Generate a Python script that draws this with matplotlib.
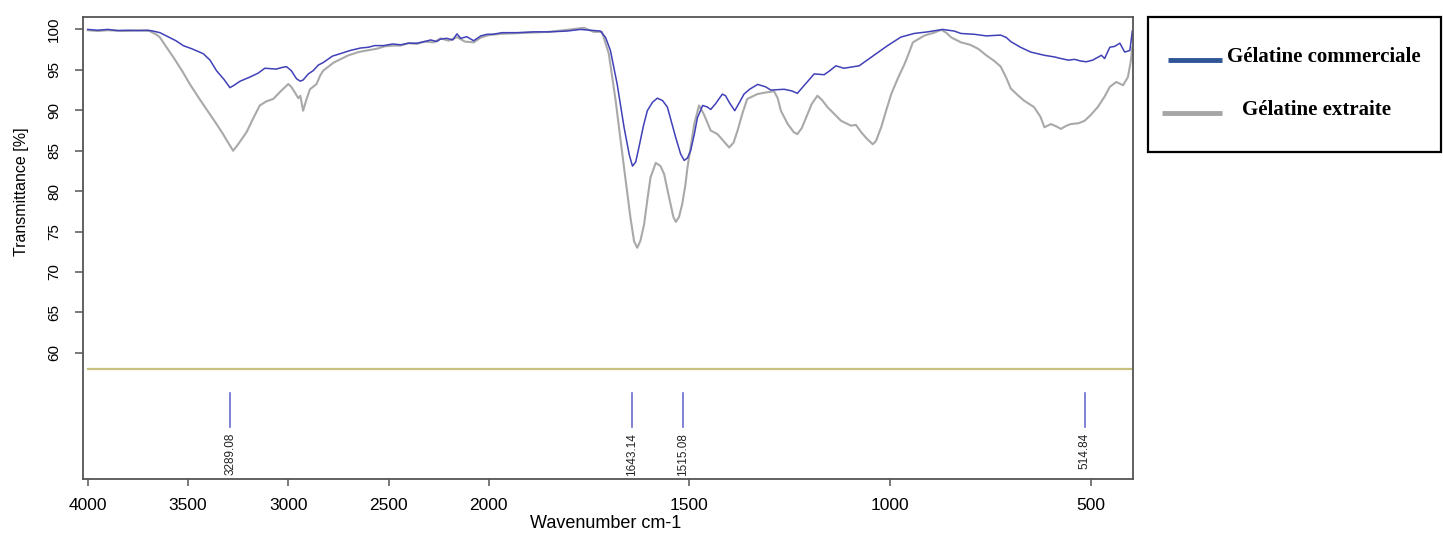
import matplotlib
matplotlib.use('Agg')
import matplotlib.pyplot as plt
import numpy as np
from matplotlib.lines import Line2D
from matplotlib.patches import Rectangle

W, H = 1443, 534

# spectrum of commercial gelatin (wavenumber cm-1, transmittance %)
wn_com = [4000, 3950, 3900, 3850, 3800, 3750, 3700, 3674, 3640, 3600, 3560, 3524, 3480, 3424,
          3390, 3358, 3320, 3291, 3270, 3240, 3192, 3150, 3117, 3060, 3030, 3009, 2985, 2959,
          2940, 2926, 2900, 2876, 2850, 2826, 2780, 2741, 2691, 2640, 2600, 2570, 2525, 2480,
          2440, 2400, 2358, 2320, 2290, 2260, 2242, 2210, 2180, 2159, 2140, 2110, 2090, 2076,
          2040, 2009, 1990, 1967, 1930, 1888, 1850, 1805, 1772, 1747, 1722, 1709, 1697, 1680,
          1663, 1650, 1642, 1634, 1626, 1615, 1605, 1592, 1580, 1567, 1555, 1545, 1534, 1522,
          1513, 1505, 1497, 1488, 1480, 1467, 1455, 1447, 1435, 1418, 1410, 1401, 1387, 1375,
          1364, 1350, 1330, 1310, 1297, 1264, 1245, 1231, 1210, 1189, 1164, 1150, 1135, 1115,
          1077, 1040, 1006, 973, 940, 906, 869, 840, 823, 790, 760, 724, 710, 699, 675, 649,
          615, 590, 574, 555, 540, 525, 511, 495, 473, 465, 452, 440, 427, 415, 402, 396]
tr_com = [100.0, 99.9, 100.0, 99.85, 99.9, 99.85, 99.9, 99.8, 99.6, 99.1, 98.6, 98.0, 97.6, 97.0,
          96.2, 94.9, 93.8, 92.8, 93.1, 93.6, 94.1, 94.6, 95.2, 95.1, 95.3, 95.4, 94.9, 93.9,
          93.6, 93.75, 94.5, 94.9, 95.6, 95.9, 96.7, 97.0, 97.4, 97.7, 97.8, 98.0, 98.0, 98.2,
          98.1, 98.3, 98.3, 98.5, 98.7, 98.5, 98.8, 98.9, 98.7, 99.45, 98.9, 99.1, 98.8, 98.6,
          99.2, 99.4, 99.4, 99.6, 99.6, 99.7, 99.7, 99.8, 100.0, 99.9, 99.8, 99.0, 97.4, 93.2,
          87.9, 84.5, 83.1, 83.6, 85.4, 88.0, 89.95, 91.0, 91.5, 91.2, 90.4, 88.6, 86.6, 84.6,
          83.8, 84.1, 85.0, 87.0, 89.1, 90.6, 90.4, 90.1, 90.8, 92.0, 91.8, 91.0, 89.95, 91.0,
          92.0, 92.6, 93.2, 92.9, 92.5, 92.6, 92.4, 92.1, 93.3, 94.5, 94.4, 94.9, 95.5, 95.2,
          95.5, 96.8, 98.0, 99.05, 99.5, 99.7, 100.0, 99.8, 99.5, 99.4, 99.2, 99.3, 99.0, 98.5,
          97.8, 97.2, 96.8, 96.6, 96.4, 96.2, 96.3, 96.1, 96.0, 96.2, 96.8, 96.4, 97.8, 97.9,
          98.3, 97.2, 97.4, 99.8]

# spectrum of extracted gelatin
wn_ext = [4000, 3950, 3900, 3800, 3750, 3691, 3660, 3641, 3610, 3574, 3530, 3491, 3440, 3391,
          3355, 3325, 3300, 3275, 3250, 3208, 3175, 3142, 3110, 3075, 3040, 3000, 2985, 2967,
          2950, 2940, 2926, 2910, 2892, 2859, 2841, 2826, 2800, 2774, 2700, 2650, 2608, 2560,
          2520, 2480, 2441, 2400, 2360, 2320, 2275, 2240, 2200, 2159, 2120, 2076, 2040, 2000,
          1971, 1900, 1850, 1805, 1763, 1739, 1718, 1701, 1684, 1663, 1647, 1638, 1630, 1622,
          1613, 1605, 1597, 1584, 1572, 1563, 1555, 1547, 1540, 1534, 1526, 1518, 1510, 1505,
          1496, 1488, 1476, 1464, 1447, 1430, 1415, 1401, 1390, 1380, 1368, 1356, 1331, 1310,
          1289, 1280, 1272, 1255, 1240, 1231, 1220, 1206, 1195, 1181, 1170, 1156, 1140, 1122,
          1097, 1085, 1072, 1058, 1043, 1035, 1022, 1010, 997, 980, 964, 955, 943, 914, 890,
          872, 860, 847, 823, 800, 780, 760, 740, 724, 710, 699, 680, 666, 641, 625, 615, 599,
          585, 574, 560, 549, 530, 515, 500, 482, 465, 452, 436, 419, 407, 400, 396]
tr_ext = [99.9, 99.8, 99.9, 99.8, 99.9, 99.8, 99.4, 99.05, 97.9, 96.6, 94.9, 93.25, 91.3, 89.5,
          88.2, 87.05, 86.0, 85.0, 85.8, 87.3, 89.0, 90.6, 91.1, 91.4, 92.3, 93.25, 92.9, 92.2,
          91.5, 91.8, 89.95, 91.3, 92.6, 93.25, 94.3, 94.9, 95.4, 95.9, 96.8, 97.2, 97.4, 97.6,
          97.9, 98.0, 98.0, 98.3, 98.2, 98.5, 98.4, 98.9, 98.6, 99.05, 98.5, 98.4, 99.0, 99.3,
          99.45, 99.6, 99.7, 99.95, 100.2, 99.7, 99.7, 97.0, 91.2, 82.9, 76.7, 73.8, 73.0, 73.9,
          75.9, 78.9, 81.7, 83.5, 83.1, 82.1, 80.2, 78.4, 76.8, 76.2, 76.8, 78.4, 80.8, 82.9,
          85.8, 88.3, 90.6, 89.5, 87.5, 87.05, 86.2, 85.4, 86.0, 87.5, 89.6, 91.4, 92.0, 92.2,
          92.35, 91.5, 89.95, 88.3, 87.3, 87.05, 87.8, 89.5, 90.8, 91.8, 91.3, 90.4, 89.6, 88.7,
          88.1, 88.2, 87.3, 86.5, 85.8, 86.2, 87.9, 89.9, 92.0, 94.0, 95.7, 96.8, 98.4, 99.25, 99.6,
          99.95, 99.6, 99.0, 98.4, 98.1, 97.6, 96.8, 96.1, 95.4, 94.0, 92.7, 91.8, 91.2, 90.4, 89.2,
          87.9, 88.3, 88.0, 87.7, 88.1, 88.3, 88.4, 88.7, 89.4, 90.4, 91.7, 92.9, 93.5, 93.1, 94.1,
          96.0, 97.8]

peaks = [3289.08, 1643.14, 1515.08, 514.84]
x_ticks = [4000, 3500, 3000, 2500, 2000, 1500, 1000, 500]
y_ticks = [60, 65, 70, 75, 80, 85, 90, 95, 100]
legend_labels = ['Gélatine commerciale', 'Gélatine extraite']


# OPUS style axis: scale doubled below 2000 cm-1
def fwd(w):
    w = np.asarray(w, dtype=float)
    return np.where(w >= 2000, w, 2 * w - 2000)


def inv(u):
    u = np.asarray(u, dtype=float)
    return np.where(u >= 2000, u, (u + 2000) / 2)


def px(x):
    return x / W


def py(y):
    return 1 - y / H


fig = plt.figure(figsize=(W / 100, H / 100), dpi=100)
ax = fig.add_axes([px(83.3), py(479.3), px(1132.7) - px(83.3), py(17.3) - py(479.3)])
ax.set_xscale('function', functions=(fwd, inv))

ax.plot(wn_ext, tr_ext, color='#a9a9a9', lw=1.5)
ax.plot(wn_com, tr_com, color='#4040b8', lw=1.1)

ax.plot([4000, 395], [58.05, 58.05], color='#c8c07e', lw=1.6)
for p in peaks:
    ax.plot([p, p], [55.0, 50.8], color='#6c6cd0', lw=1.2)
    ax.text(p, 50.1, '%.2f' % p, rotation=90, ha='center', va='top', fontsize=8.5,
            family='Liberation Sans', color='#222222')

ax.set_xlim(4022, 395)
ax.set_ylim(44.37, 101.5)
ax.set_xticks(x_ticks)
ax.set_xticklabels([str(t) for t in x_ticks])
ax.set_yticks(y_ticks)
ax.set_yticklabels([str(t) for t in y_ticks])
ax.minorticks_off()

for s in ax.spines.values():
    s.set_color('#555555')
    s.set_linewidth(1.3)
ax.tick_params(axis='x', length=5, width=1.1, color='#555555', labelsize=12.5, pad=8.5)
ax.tick_params(axis='y', length=6, width=1.1, color='#555555', labelsize=11, pad=10,
               labelrotation=90)
for lab in ax.get_yticklabels():
    lab.set_va('center')
for lab in ax.get_xticklabels() + ax.get_yticklabels():
    lab.set_family('Liberation Sans')

fig.text(px(606), py(523), 'Wavenumber cm-1', ha='center', va='center', fontsize=13,
         family='Liberation Sans')
fig.text(px(22), py(192), 'Transmittance [%]', ha='center', va='center', rotation=90,
         fontsize=11.5, family='Liberation Sans')

# legend box drawn on the figure
fig.add_artist(Rectangle((px(1147.5), py(152)), px(1441) - px(1147.5), py(17) - py(152),
                         transform=fig.transFigure, fill=False, edgecolor='black', lw=1.6))
fig.add_artist(Line2D([px(1168), px(1222)], [py(59.5), py(59.5)], transform=fig.transFigure,
                      color='#2f5597', lw=3.5, solid_capstyle='butt'))
fig.add_artist(Line2D([px(1162), px(1222)], [py(113), py(113)], transform=fig.transFigure,
                      color='#a6a6a6', lw=3.5, solid_capstyle='butt'))
fig.text(px(1227), py(62), legend_labels[0], ha='left', va='baseline', fontsize=15,
         family='Liberation Serif', weight='bold')
fig.text(px(1241.5), py(115), legend_labels[1], ha='left', va='baseline', fontsize=15,
         family='Liberation Serif', weight='bold')

fig.savefig('out.png', dpi=100)
